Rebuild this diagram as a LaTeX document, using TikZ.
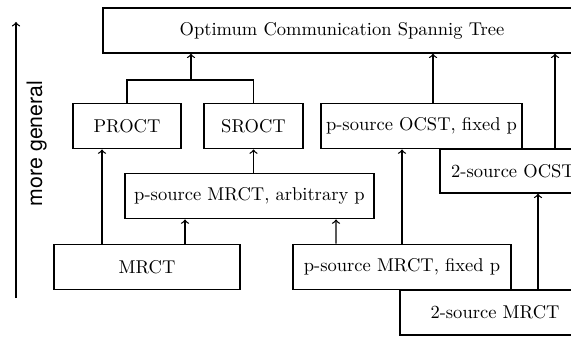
\documentclass[tikz,border=0pt]{standalone}
\usepackage{fontspec}
\newfontfamily\generalfont{TeX Gyre Heros}
\usetikzlibrary{positioning,calc}
\tikzstyle{block} = [draw, rectangle, minimum height=24.6pt, inner sep=2pt]
\tikzstyle{input} = [coordinate]
\tikzstyle{output} = [coordinate]

\begin{document}
\begin{tikzpicture}[x=0.54pt, y=0.54pt, line width=0.7pt]
        \clip (0,0) rectangle (571,336);
        \node [block, minimum width=258.1pt, minimum height=24.3pt] (ocst) at (342,305.5) {Optimum Communication Spannig Tree};
        \node [block, minimum width=58.3pt] (proct) at (127,210) {PROCT};
        \node [block, minimum width=53.5pt] (sroct) at (253.5,210) {SROCT};
        \node [block, minimum width=108.5pt] (pocst) at (421.5,210) {p-source OCST, fixed p};
        \node [block, minimum width=78.8pt, minimum height=23.8pt] (twoocst) at (513,165) {2-source OCST};
        \node [block, minimum width=134.5pt] (pmrctarb) at (249.5,140) {p-source MRCT, arbitrary p};
        \node [block, minimum width=100.4pt] (mrct) at (147,69) {MRCT};
        \node [block, minimum width=117.7pt] (pmrctfix) at (402,69) {p-source MRCT, fixed p};
        \node [block, minimum width=102.6pt, minimum height=24.3pt] (twomrct) at (495,23.5) {2-source MRCT};

        % PROCT and SROCT join before the top
        \node [input] (join) at (191,256) {};
        \draw (proct.north) |- (join) -| (sroct.north);
        \draw [->] (join) -- (join |- ocst.south);
        \draw [->] ($(pocst.north)+(11.5,0)$) coordinate (po) -- (po |- ocst.south);
        \draw [->] ($(twoocst.north)+(42,0)$) coordinate (to) -- (to |- ocst.south);

        \draw [->] ($(mrct.north)+(-45,0)$) -- ($(proct.south)+(-25,0)$);
        \draw [->] ($(mrct.north)+(38,0)$) -- ($(pmrctarb.south)+(-64.5,0)$);
        \draw [->] (pmrctarb.north -| sroct.south) -- (sroct.south);
        \draw [->] ($(pmrctfix.north)+(-66,0)$) -- ($(pmrctarb.south)+(86.5,0)$);
        \draw [->] (pmrctfix.north) -- (pmrctfix.north |- pocst.south);
        \draw [->] ($(twomrct.north)+(43,0)$) coordinate (tm) -- (tm |- twoocst.south);

        % generality axis
        \node [input] (gbottom) at (16,38) {};
        \node [output] (gtop) at (16,314) {};
        \draw [->] (gbottom) -- node [pos=0.56, sloped, below=2pt, name=general, font=\generalfont\fontsize{11.5}{13}\selectfont] {more general} (gtop);
\end{tikzpicture}
\end{document}
